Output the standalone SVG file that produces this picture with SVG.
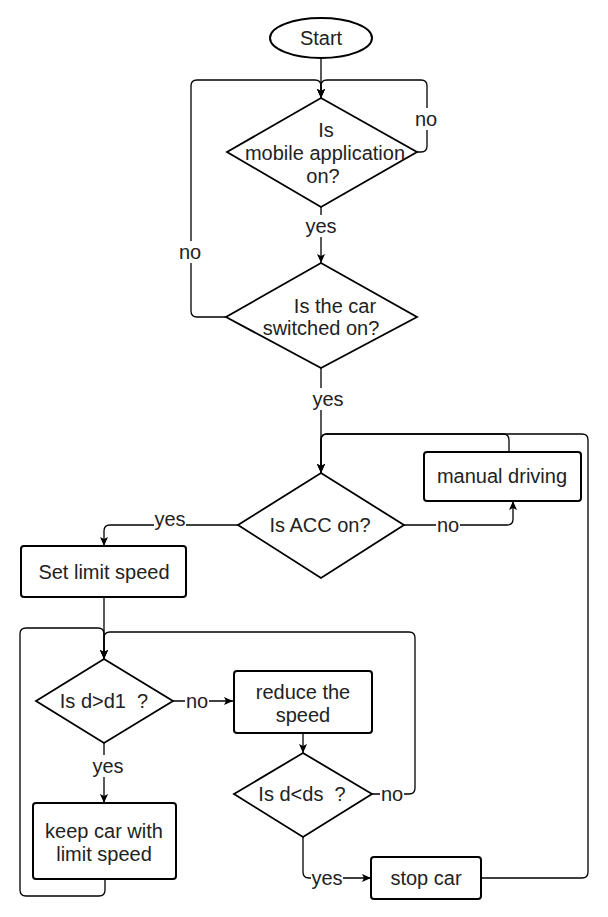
<svg xmlns="http://www.w3.org/2000/svg" width="608" height="917" viewBox="0 0 608 917">
<style>
.n{fill:#fff;stroke:#000;stroke-width:2}
.d{fill:#fff;stroke:#000;stroke-width:1.8}
.t{font-family:"Liberation Sans",Arial,sans-serif;font-size:20px;fill:#222;text-anchor:middle}
.c{fill:none;stroke:#000;stroke-width:1.3}
.lb{fill:#fff}
</style>
<defs>
<marker id="a" markerUnits="userSpaceOnUse" markerWidth="10" markerHeight="10" viewBox="0 0 10 10" refX="9" refY="5" orient="auto">
<path d="M0,1 L9,5 L0,9 L2,5 z" fill="#000"/>
</marker>
</defs>
<rect width="608" height="917" fill="#fff"/>
<g id="connectors">
<path class="c" d="M321,58 L321,98" marker-end="url(#a)"/>
<path class="c" d="M417,152 L421,152 Q427,152 427,146 L427,86 Q427,80 421,80 L327,80 Q321,80 321,86 L321,98" marker-end="url(#a)"/>
<path class="c" d="M226,317 L197,317 Q191,317 191,311 L191,86 Q191,80 197,80 L315,80 Q321,80 321,86 L321,98" marker-end="url(#a)"/>
<path class="c" d="M321,207 L321,263" marker-end="url(#a)"/>
<path class="c" d="M321,368 L321,473" marker-end="url(#a)"/>
<path class="c" d="M509,452 L509,440 Q509,434 503,434 L327,434 Q321,434 321,440 L321,473" marker-end="url(#a)"/>
<path class="c" d="M481,878 L582,878 Q588,878 588,872 L588,440 Q588,434 582,434 L327,434 Q321,434 321,440 L321,473" marker-end="url(#a)"/>
<path class="c" d="M404,525 L507,525 Q513,525 513,519 L513,501" marker-end="url(#a)"/>
<path class="c" d="M238,525 L110,525 Q104,525 104,531 L104,546" marker-end="url(#a)"/>
<path class="c" d="M104,597 L104,659" marker-end="url(#a)"/>
<path class="c" d="M105,879 L105,890 Q105,896 99,896 L26,896 Q20,896 20,890 L20,634 Q20,628 26,628 L98,628 Q104,628 104,634 L104,659" marker-end="url(#a)"/>
<path class="c" d="M372,794 L409,794 Q415,794 415,788 L415,638 Q415,632 409,632 L110,632 Q104,632 104,638 L104,659" marker-end="url(#a)"/>
<path class="c" d="M173,701 L233,701" marker-end="url(#a)"/>
<path class="c" d="M104,743 L104,803" marker-end="url(#a)"/>
<path class="c" d="M303,733 L303,753" marker-end="url(#a)"/>
<path class="c" d="M303,837 L303,872 Q303,878 309,878 L371,878" marker-end="url(#a)"/>
<rect class="lb" x="414" y="108" width="24" height="22"/><text class="t" x="426" y="126">no</text>
<rect class="lb" x="178" y="241" width="24" height="22"/><text class="t" x="190" y="259">no</text>
<rect class="lb" x="305" y="215" width="32" height="22"/><text class="t" x="321" y="233">yes</text>
<rect class="lb" x="312" y="388" width="32" height="22"/><text class="t" x="328" y="406">yes</text>
<rect class="lb" x="436" y="514" width="24" height="22"/><text class="t" x="448" y="532">no</text>
<rect class="lb" x="154" y="509" width="32" height="21"/><text class="t" x="170" y="526">yes</text>
<rect class="lb" x="185" y="690" width="24" height="22"/><text class="t" x="197" y="708">no</text>
<rect class="lb" x="92" y="755" width="32" height="22"/><text class="t" x="108" y="773">yes</text>
<rect class="lb" x="380" y="783" width="24" height="22"/><text class="t" x="392" y="801">no</text>
<rect class="lb" x="311" y="867" width="32" height="22"/><text class="t" x="327" y="885">yes</text>
</g>
<g id="start">
<ellipse class="n" cx="321" cy="38" rx="51" ry="20"/>
<text class="t" x="321" y="45">Start</text>
</g>
<g id="mobile-app">
<polygon class="d" points="321,98 417,152 321,207 227,152"/>
<text class="t" x="326" y="137">Is</text>
<text class="t" x="325" y="160">mobile application</text>
<text class="t" x="323" y="183">on?</text>
</g>
<g id="car-on">
<polygon class="d" points="321,263 417,317 321,368 226,317"/>
<text class="t" x="335" y="313">Is the car</text>
<text class="t" x="321" y="335">switched on?</text>
</g>
<g id="acc-on">
<polygon class="d" points="321,473 404,525 321,578 238,525"/>
<text class="t" x="320" y="532">Is ACC on?</text>
</g>
<g id="manual-driving">
<rect class="n" x="424" y="452" width="157" height="49" rx="3"/>
<text class="t" x="502" y="483">manual driving</text>
</g>
<g id="set-limit">
<rect class="n" x="21" y="546" width="165" height="51" rx="3"/>
<text class="t" x="104" y="579">Set limit speed</text>
</g>
<g id="d-gt-d1">
<polygon class="d" points="104,659 173,701 104,743 36,701"/>
<text class="t" x="104" y="708" xml:space="preserve">Is d&gt;d1  ?</text>
</g>
<g id="keep-car">
<rect class="n" x="33" y="803" width="143" height="76" rx="3"/>
<text class="t" x="104" y="838">keep car with</text>
<text class="t" x="104" y="861">limit speed</text>
</g>
<g id="reduce-speed">
<rect class="n" x="234" y="671" width="138" height="62" rx="3"/>
<text class="t" x="303" y="699">reduce the</text>
<text class="t" x="303" y="722">speed</text>
</g>
<g id="d-lt-ds">
<polygon class="d" points="303,753 372,794 303,837 234,794"/>
<text class="t" x="302" y="801" xml:space="preserve">Is d&lt;ds  ?</text>
</g>
<g id="stop-car">
<rect class="n" x="371" y="857" width="110" height="42" rx="3"/>
<text class="t" x="426" y="885">stop car</text>
</g>
</svg>
